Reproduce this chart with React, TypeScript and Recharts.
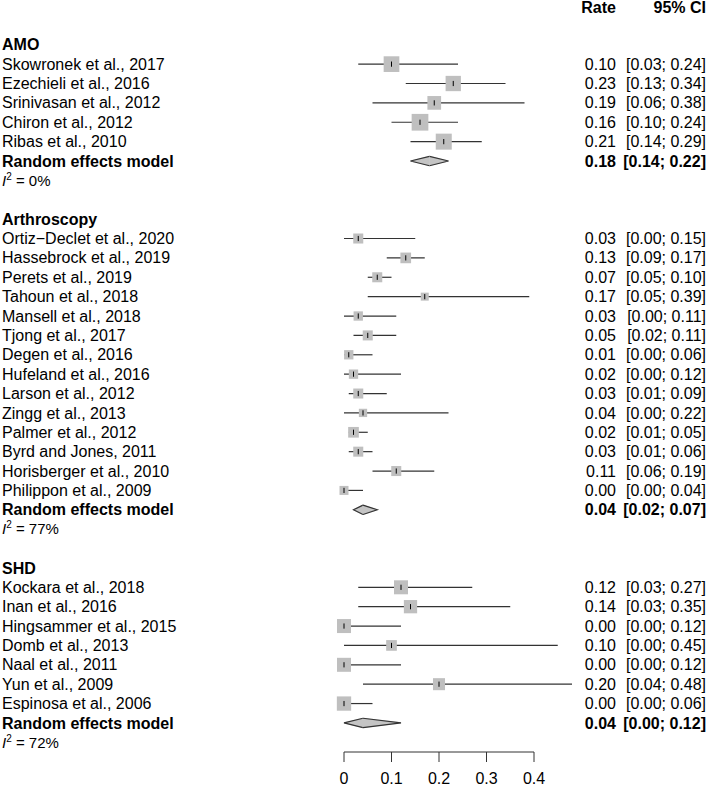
import { ReferenceLine, Scatter, ScatterChart, XAxis, YAxis } from "recharts";

const FONT = "'Liberation Sans', Arial, Helvetica, sans-serif";

const groupNames = ["AMO", "Arthroscopy", "SHD"];

const amoStudies = [
  "Skowronek et al., 2017",
  "Ezechieli et al., 2016",
  "Srinivasan et al., 2012",
  "Chiron et al., 2012",
  "Ribas et al., 2010",
];
const amoRate = [0.1, 0.23, 0.19, 0.16, 0.21];
const amoLower = [0.03, 0.13, 0.06, 0.1, 0.14];
const amoUpper = [0.24, 0.34, 0.38, 0.24, 0.29];
const amoWeight = [20.1, 19.1, 15.3, 22.8, 20.9];

const arthroStudies = [
  "Ortiz\u2212Declet et al., 2020",
  "Hassebrock et al., 2019",
  "Perets et al., 2019",
  "Tahoun et al., 2018",
  "Mansell et al., 2018",
  "Tjong et al., 2017",
  "Degen et al., 2016",
  "Hufeland et al., 2016",
  "Larson et al., 2012",
  "Zingg et al., 2013",
  "Palmer et al., 2012",
  "Byrd and Jones, 2011",
  "Horisberger et al., 2010",
  "Philippon et al., 2009",
];
const arthroRate = [0.03, 0.13, 0.07, 0.17, 0.03, 0.05, 0.01, 0.02, 0.03, 0.04, 0.02, 0.03, 0.11, 0.0];
const arthroLower = [0.0, 0.09, 0.05, 0.05, 0.0, 0.02, 0.0, 0.0, 0.01, 0.0, 0.01, 0.01, 0.06, 0.0];
const arthroUpper = [0.15, 0.17, 0.1, 0.39, 0.11, 0.11, 0.06, 0.12, 0.09, 0.22, 0.05, 0.06, 0.19, 0.04];
const arthroWeight = [8.2, 9.3, 8.2, 5.2, 7.1, 8.2, 7.1, 7.1, 8.2, 5.6, 9.3, 8.2, 8.2, 6.6];

const shdStudies = [
  "Kockara et al., 2018",
  "Inan et al., 2016",
  "Hingsammer et al., 2015",
  "Domb et al., 2013",
  "Naal et al., 2011",
  "Yun et al., 2009",
  "Espinosa et al., 2006",
];
const shdRate = [0.12, 0.14, 0.0, 0.1, 0.0, 0.2, 0.0];
const shdLower = [0.03, 0.03, 0.0, 0.0, 0.0, 0.04, 0.0];
const shdUpper = [0.27, 0.35, 0.12, 0.45, 0.12, 0.48, 0.06];
const shdWeight = [16, 14.4, 16, 9.3, 16, 11.8, 16.7];

const pooledRate = [0.18, 0.04, 0.04];
const pooledLower = [0.14, 0.02, 0.0];
const pooledUpper = [0.22, 0.07, 0.12];
const i2Values = [0, 77, 72];

const xTicks = [0, 0.1, 0.2, 0.3, 0.4];

type Row = {
  row: number;
  kind: "header" | "group" | "study" | "pooled" | "het";
  label?: string;
  rate?: number;
  lower?: number;
  upper?: number;
  weight?: number;
};

const groups = [
  { studies: amoStudies, rate: amoRate, lower: amoLower, upper: amoUpper, weight: amoWeight },
  { studies: arthroStudies, rate: arthroRate, lower: arthroLower, upper: arthroUpper, weight: arthroWeight },
  { studies: shdStudies, rate: shdRate, lower: shdLower, upper: shdUpper, weight: shdWeight },
];

const rows: Row[] = [{ row: 0, kind: "header" }];
let r = 2;
groups.forEach((g, gi) => {
  rows.push({ row: r++, kind: "group", label: groupNames[gi] });
  g.studies.forEach((name, i) => {
    rows.push({
      row: r++,
      kind: "study",
      label: name,
      rate: g.rate[i],
      lower: g.lower[i],
      upper: g.upper[i],
      weight: g.weight[i],
    });
  });
  rows.push({
    row: r++,
    kind: "pooled",
    label: "Random effects model",
    rate: pooledRate[gi],
    lower: pooledLower[gi],
    upper: pooledUpper[gi],
  });
  rows.push({ row: r++, kind: "het", label: `${i2Values[gi]}%` });
  r++;
});

const rowMap = new Map(rows.map((d) => [d.row, d]));
const studyRows = rows.filter((d) => d.kind === "study");
const pooledRows = rows.filter((d) => d.kind === "pooled");

const fmt = (v: number) => v.toFixed(2);

function RowTick({ y, payload }: any) {
  const d = rowMap.get(payload.value);
  if (!d) return null;
  const base = { fontFamily: FONT, fontSize: 16, fill: "#000", dy: "0.35em" };
  if (d.kind === "header") {
    return (
      <g>
        <text {...base} dy="0.45em" x={616} y={y} textAnchor="end" fontWeight="bold">Rate</text>
        <text {...base} dy="0.45em" x={706} y={y} textAnchor="end" fontWeight="bold">95% CI</text>
      </g>
    );
  }
  if (d.kind === "het") {
    return (
      <text x={2} y={y} dy="0.35em" fontFamily={FONT} fontSize={15} fill="#000">
        <tspan fontStyle="italic">I</tspan>
        <tspan fontSize={10} dy={-6}>2</tspan>
        <tspan dy={6}>{` = ${d.label}`}</tspan>
      </text>
    );
  }
  const bold = d.kind === "group" || d.kind === "pooled";
  return (
    <g>
      <text {...base} x={2} y={y} textAnchor="start" fontWeight={bold ? "bold" : "normal"}>
        {d.label}
      </text>
      {d.rate !== undefined && (
        <>
          <text {...base} x={616} y={y} textAnchor="end" fontWeight={bold ? "bold" : "normal"}>
            {fmt(d.rate)}
          </text>
          <text {...base} x={706} y={y} textAnchor="end" fontWeight={bold ? "bold" : "normal"}>
            {`[${fmt(d.lower!)}; ${fmt(d.upper!)}]`}
          </text>
        </>
      )}
    </g>
  );
}

function StudyBox({ cx, cy, payload }: any) {
  const side = 3.5 * Math.sqrt(payload.weight);
  return (
    <g>
      <rect x={cx - side / 2} y={cy - side / 2} width={side} height={side} fill="#bfbfbf" />
      <line x1={cx} x2={cx} y1={cy - 2.6} y2={cy + 2.6} stroke="#000" strokeWidth={1} />
    </g>
  );
}

const H = 4.7;

function DiamondLeft({ x1, y1, x2 }: any) {
  return (
    <g>
      <polygon points={`${x1},${y1} ${x2},${y1 - H} ${x2},${y1 + H}`} fill="#c4c4c4" stroke="#c4c4c4" strokeWidth={0.5} />
      <polyline points={`${x2},${y1 - H} ${x1},${y1} ${x2},${y1 + H}`} fill="none" stroke="#333" strokeWidth={1.2} />
    </g>
  );
}

function DiamondRight({ x1, y1, x2 }: any) {
  return (
    <g>
      <polygon points={`${x1},${y1 - H} ${x2},${y1} ${x1},${y1 + H}`} fill="#c4c4c4" stroke="#c4c4c4" strokeWidth={0.5} />
      <polyline points={`${x1},${y1 - H} ${x2},${y1} ${x1},${y1 + H}`} fill="none" stroke="#333" strokeWidth={1.2} />
    </g>
  );
}

export default function App() {
  return (
    <div style={{ position: "absolute", left: 0, top: 0, width: 708, height: 788, background: "#fff" }}>
      <ScatterChart width={708} height={788} margin={{ top: 6, right: 174, bottom: 0, left: 0 }}>
        <XAxis
          type="number"
          dataKey="rate"
          domain={[0, 0.4]}
          ticks={xTicks}
          tickFormatter={(v: number) => (v === 0 ? "0" : String(v))}
          tick={{ fontFamily: FONT, fontSize: 16, fill: "#000" }}
          stroke="#333"
          tickSize={10}
          tickMargin={11}
          height={36}
        />
        <YAxis
          type="number"
          dataKey="row"
          domain={[0, 38.5]}
          reversed
          ticks={rows.map((d) => d.row)}
          interval={0}
          width={344}
          axisLine={false}
          tickLine={false}
          tick={<RowTick />}
        />
        {studyRows.map((d) => (
          <ReferenceLine
            key={`ci-${d.row}`}
            segment={[
              { x: d.lower, y: d.row },
              { x: d.upper, y: d.row },
            ]}
            stroke="#333"
            strokeWidth={1.2}
            ifOverflow="visible"
          />
        ))}
        <Scatter data={studyRows} shape={<StudyBox />} isAnimationActive={false} />
        {pooledRows.map((d) => (
          <ReferenceLine
            key={`dl-${d.row}`}
            segment={[
              { x: d.lower, y: d.row },
              { x: d.rate, y: d.row },
            ]}
            shape={<DiamondLeft />}
            ifOverflow="visible"
          />
        ))}
        {pooledRows.map((d) => (
          <ReferenceLine
            key={`dr-${d.row}`}
            segment={[
              { x: d.rate, y: d.row },
              { x: d.upper, y: d.row },
            ]}
            shape={<DiamondRight />}
            ifOverflow="visible"
          />
        ))}
      </ScatterChart>
    </div>
  );
}
